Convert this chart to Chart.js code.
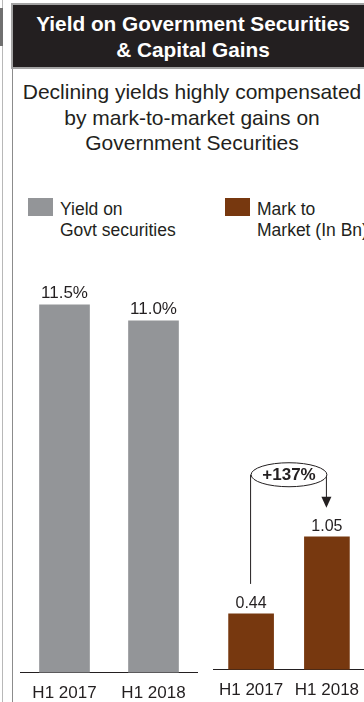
<!DOCTYPE html>
<html>
<head>
<meta charset="utf-8">
<script src="https://cdn.jsdelivr.net/npm/chart.js@4.4.1/dist/chart.umd.min.js"></script>
<style>
  html, body {
    margin: 0;
    padding: 0;
    width: 364px;
    height: 702px;
    overflow: hidden;
    background: #fff;
    font-family: "Liberation Sans", Arial, sans-serif;
    color: #231f20;
  }
  .edge { position: absolute; left: 2px; top: 0; width: 1px; height: 702px; background: #b8b8b8; }
  .edge-dark { position: absolute; left: 0; top: 8px; width: 3px; height: 38px; background: #707070; }
  .panel-line { position: absolute; left: 12px; top: 66px; width: 1px; height: 636px; background: #8c8c8c; }
  .header {
    position: absolute;
    left: 11px;
    top: 3px;
    width: 362px;
    height: 66px;
    box-sizing: border-box;
    background: #231f20;
    border: 2px solid #a3a3a3;
    border-right: none;
    padding-top: 6px;
    color: #fff;
    font-weight: bold;
    font-size: 20.8px;
    line-height: 26px;
    text-align: center;
  }
  .subtitle {
    position: absolute;
    left: 12px;
    top: 79px;
    width: 360px;
    font-size: 21px;
    line-height: 25.5px;
    text-align: center;
  }
  .swatch { position: absolute; top: 198px; width: 25px; height: 18px; }
  .legend-text {
    position: absolute;
    top: 199px;
    font-size: 17.5px;
    line-height: 21px;
    white-space: nowrap;
  }
  canvas { position: absolute; }
</style>
</head>
<body>
<div class="edge"></div>
<div class="edge-dark"></div>
<div class="panel-line"></div>
<div class="header">Yield on Government Securities<br>&amp; Capital Gains</div>
<div class="subtitle">Declining yields highly compensated<br>by mark-to-market gains on<br>Government Securities</div>

<div class="swatch" id="swatchYield" style="left:28px"></div>
<div class="legend-text" id="legendYield" style="left:60px"></div>
<div class="swatch" id="swatchMtm" style="left:225px"></div>
<div class="legend-text" id="legendMtm" style="left:257px"></div>

<canvas id="yieldChart" width="178" height="474" style="left:20px; top:241px"></canvas>
<canvas id="mtmChart" width="160" height="422" style="left:209px; top:290px"></canvas>

<script>
const periods = ['H1 2017', 'H1 2018'];
const yieldValues = [11.5, 11.0];      // %
const mtmValues = [0.44, 1.05];        // In Bn
const growthLabel = '+137%';
const yieldLegend = ['Yield on', 'Govt securities'];
const mtmLegend = ['Mark to', 'Market (In Bn)'];

const GREY = '#939598';
const BROWN = '#77380f';
const INK = '#231f20';
const FONT = '"Liberation Sans", Arial, sans-serif';

document.getElementById('swatchYield').style.background = GREY;
document.getElementById('swatchMtm').style.background = BROWN;
document.getElementById('legendYield').innerHTML = yieldLegend.join('<br>');
document.getElementById('legendMtm').innerHTML = mtmLegend.join('<br>');

// numbers printed just above each bar
const valueLabels = {
    id: 'valueLabels',
    afterDatasetsDraw(chart, args, opts) {
        const { ctx } = chart;
        const values = chart.data.datasets[0].data;
        ctx.save();
        ctx.font = opts.font;
        ctx.fillStyle = INK;
        ctx.textAlign = 'center';
        ctx.textBaseline = 'alphabetic';
        chart.getDatasetMeta(0).data.forEach((bar, i) => {
            ctx.fillText(opts.format(values[i]), bar.x, bar.y - opts.offset);
        });
        ctx.restore();
    }
};

// ellipse with the growth figure, linked from first bar to an arrow on the second
const growthBracket = {
    id: 'growthBracket',
    afterDatasetsDraw(chart, args, opts) {
        const { ctx } = chart;
        const [from, to] = chart.getDatasetMeta(0).data;
        const cx = (from.x + to.x) / 2;
        const cy = to.y - 62;
        const rx = (to.x - from.x) / 2;
        const ry = 12;
        const tipY = to.y - 29;

        ctx.save();
        ctx.strokeStyle = INK;
        ctx.fillStyle = INK;
        ctx.lineWidth = 1;

        ctx.beginPath();
        ctx.moveTo(from.x - 0.5, cy);
        ctx.lineTo(from.x - 0.5, from.y - 30);
        ctx.moveTo(to.x - 0.5, cy);
        ctx.lineTo(to.x - 0.5, tipY - 10);
        ctx.stroke();

        ctx.beginPath();
        ctx.moveTo(to.x - 5.5, tipY - 11);
        ctx.lineTo(to.x + 4.5, tipY - 11);
        ctx.lineTo(to.x - 0.5, tipY);
        ctx.closePath();
        ctx.fill();

        ctx.beginPath();
        ctx.ellipse(cx, cy, rx, ry, 0, 0, Math.PI * 2);
        ctx.fillStyle = '#fff';
        ctx.fill();
        ctx.stroke();

        ctx.fillStyle = INK;
        ctx.font = 'bold 17px ' + FONT;
        ctx.textAlign = 'center';
        ctx.textBaseline = 'middle';
        ctx.fillText(opts.text, cx, cy + 1);
        ctx.restore();
    }
};

function barChart(canvasId, values, color, yMax, barWidth, labelOpts, extraPlugins) {
    return new Chart(document.getElementById(canvasId), {
        type: 'bar',
        data: {
            labels: periods,
            datasets: [{
                data: values,
                backgroundColor: color,
                borderWidth: 0,
                barThickness: barWidth
            }]
        },
        options: {
            responsive: false,
            animation: false,
            layout: { padding: 0 },
            plugins: {
                legend: { display: false },
                tooltip: { enabled: false },
                valueLabels: labelOpts,
                growthBracket: { text: growthLabel }
            },
            scales: {
                x: {
                    grid: { display: false, drawTicks: false },
                    border: { display: true, color: INK, width: 1 },
                    ticks: {
                        color: INK,
                        font: { family: FONT, size: 17 },
                        padding: 11,
                        maxRotation: 0
                    }
                },
                y: { display: false, min: 0, max: yMax }
            }
        },
        plugins: [valueLabels].concat(extraPlugins)
    });
}

barChart('yieldChart', yieldValues, GREY, 13.5, 50,
    { font: '17px ' + FONT, offset: 7, format: v => v.toFixed(1) + '%' }, []);

barChart('mtmChart', mtmValues, BROWN, 3, 45,
    { font: '16px ' + FONT, offset: 6, format: v => v.toFixed(2) }, [growthBracket]);
</script>
</body>
</html>
